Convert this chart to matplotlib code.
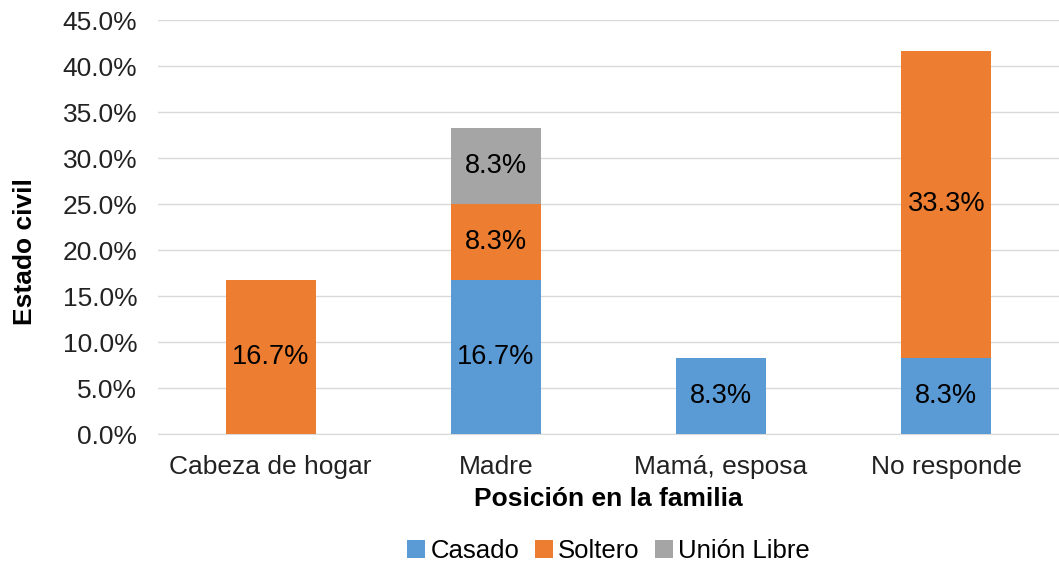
import matplotlib
matplotlib.use("Agg")
import matplotlib.pyplot as plt
from matplotlib.ticker import FuncFormatter
import numpy as np

plt.rcParams["font.family"] = ["Liberation Sans", "DejaVu Sans"]

categories = ["Cabeza de hogar", "Madre", "Mamá, esposa", "No responde"]
casado = [0.0, 16.7, 8.3, 8.3]
soltero = [16.7, 8.3, 0.0, 33.3]
union_libre = [0.0, 8.3, 0.0, 0.0]
series_names = ["Casado", "Soltero", "Unión Libre"]
colors = ["#5B9BD5", "#ED7D31", "#A5A5A5"]

fig = plt.figure(figsize=(10.59, 5.63), dpi=100)
ax = fig.add_axes([158 / 1059, 1 - 434 / 563, 901 / 1059, 414 / 563])

x = np.arange(len(categories))
bottom = np.zeros(len(categories))
for vals, name, col in zip([casado, soltero, union_libre], series_names, colors):
    vals = np.array(vals)
    ax.bar(x, vals, 0.4, bottom=bottom, color=col, label=name, zorder=3)
    for xi, v, b in zip(x, vals, bottom):
        if v > 0:
            ax.text(xi, b + v / 2, f"{v:.1f}%", ha="center", va="center",
                    fontsize=19.5, color="black", zorder=4)
    bottom += vals

ax.set_xlim(-0.5, 3.5)
ax.set_ylim(0, 45)
ax.set_yticks(np.arange(0, 46, 5))
ax.yaxis.set_major_formatter(FuncFormatter(lambda v, _: f"{v:.1f}%"))
ax.grid(axis="y", color="#D9D9D9", linewidth=1, zorder=0)
ax.set_xticks(x)
ax.set_xticklabels(categories)
ax.tick_params(axis="both", length=0, labelsize=19, colors="#222222")
ax.tick_params(axis="x", pad=15)
ax.tick_params(axis="y", pad=15)
for s in ["top", "right", "left"]:
    ax.spines[s].set_visible(False)
ax.spines["bottom"].set_color("#D9D9D9")

ax.set_xlabel("Posición en la familia", fontsize=19, fontweight="bold", labelpad=6)
ax.set_ylabel("Estado civil", fontsize=19, fontweight="bold")
ax.yaxis.set_label_coords(-0.134, 0.44)

ax.legend(loc="center", bbox_to_anchor=(0.5, -0.283),
          ncol=3, frameon=False, fontsize=18.5, handlelength=0.7, handleheight=0.7,
          handletextpad=0.2, columnspacing=0.6)

fig.savefig("out.png", dpi=100)
